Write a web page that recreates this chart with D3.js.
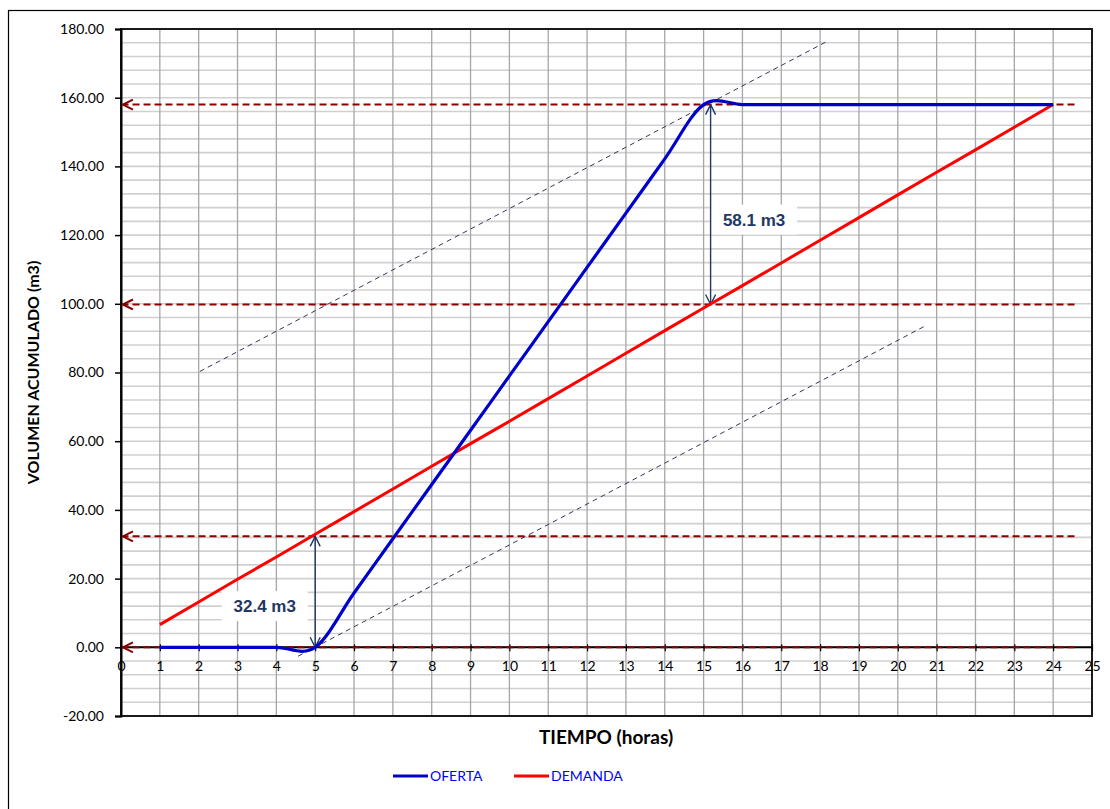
<!DOCTYPE html>
<html>
<head>
<meta charset="utf-8">
<script src="https://cdn.jsdelivr.net/npm/d3@7"></script>
<style>
  body { margin: 0; background: #fff; }
  svg { display: block; }
</style>
</head>
<body>
<div id="chart"></div>
<script>
// hourly values
const hours = [1, 2, 3, 4, 5, 6, 7, 8, 9, 10, 11, 12, 13, 14, 15, 16, 17, 18, 19, 20, 21, 22, 23, 24];
const oferta = [0, 0, 0, 0, 0, 15.8, 31.6, 47.4, 63.2, 79.0, 94.8, 110.6, 126.4, 142.2, 158, 158, 158, 158, 158, 158, 158, 158, 158, 158];
const demanda = [6.6, 13.2, 19.8, 26.3, 32.9, 39.5, 46.1, 52.7, 59.3, 65.8, 72.4, 79.0, 85.6, 92.2, 98.8, 105.3, 111.9, 118.5, 125.1, 131.7, 138.3, 144.8, 151.4, 158.0];

const xTicks = d3.range(0, 26);
const yTicks = [-20, 0, 20, 40, 60, 80, 100, 120, 140, 160, 180];

// reference levels (dashed, arrow at left end)
const levels = [158, 99.8, 32.3, 0];
const levelFrom = 0.05, levelTo = 24.55;

// parallel dashed guides [x1, y1, x2, y2]
const guides = [[2.03, 80.3, 18.23, 176.7], [4.56, -2.6, 20.73, 93.7]];

// double arrows with labels
const gaps = [
  { x: 5, y0: 0, y1: 32.3, label: '32.4 m3', lx: 3.7, ly: 12 },
  { x: 15.18, y0: 99.8, y1: 158, label: '58.1 m3', lx: 16.3, ly: 124.5 }
];

const width = 1110, height = 809;
const margin = { top: 29, right: 18, bottom: 93, left: 121 };

const svg = d3.select('#chart').append('svg')
  .attr('width', width)
  .attr('height', height);

// outer chart frame
svg.append('rect')
  .attr('x', 8.5).attr('y', 10.5)
  .attr('width', width + 20).attr('height', height + 20)
  .attr('fill', 'none').attr('stroke', '#000').attr('stroke-width', 1.2);

const x = d3.scaleLinear().domain([0, 25]).range([margin.left, width - margin.right]);
const y = d3.scaleLinear().domain([-20, 180]).range([height - margin.bottom, margin.top]);

// horizontal grid every 4 units
svg.append('g')
  .selectAll('line')
  .data(d3.range(-16, 180, 4))
  .join('line')
  .attr('x1', x(0)).attr('x2', x(25))
  .attr('y1', d => y(d)).attr('y2', d => y(d))
  .attr('stroke', '#d0d0d0').attr('stroke-width', 1.6);

// vertical grid every hour
svg.append('g')
  .selectAll('line')
  .data(d3.range(1, 25))
  .join('line')
  .attr('x1', d => x(d)).attr('x2', d => x(d))
  .attr('y1', y(-20)).attr('y2', y(180))
  .attr('stroke', '#a6a6a6').attr('stroke-width', 1.3);

// plot border
svg.append('rect')
  .attr('x', x(0)).attr('y', y(180))
  .attr('width', x(25) - x(0)).attr('height', y(-20) - y(180))
  .attr('fill', 'none').attr('stroke', '#1a1a1a').attr('stroke-width', 2);

// y axis
const yAxis = svg.append('g')
  .attr('transform', `translate(${x(0)},0)`)
  .call(d3.axisLeft(y).tickValues(yTicks).tickFormat(d => d.toFixed(2)).tickSize(6).tickPadding(11));
yAxis.select('.domain').attr('stroke', '#000').attr('stroke-width', 2);
yAxis.selectAll('.tick line').attr('stroke', '#000').attr('stroke-width', 1.5);
yAxis.selectAll('text')
  .attr('font-family', 'Lato, "Open Sans", sans-serif')
  .attr('font-size', '14px')
  .attr('fill', '#000');

// x axis at zero
const xAxis = svg.append('g')
  .attr('transform', `translate(0,${y(0)})`)
  .call(d3.axisBottom(x).tickValues(xTicks).tickSize(4).tickPadding(10));
xAxis.select('.domain').attr('stroke', '#000').attr('stroke-width', 2).attr('d', `M${x(0)},0H${x(25)}`);
xAxis.selectAll('.tick line').attr('stroke', '#000').attr('stroke-width', 1.2).attr('y1', -3);
xAxis.selectAll('text')
  .attr('font-family', 'Lato, "Open Sans", sans-serif')
  .attr('font-size', '14px')
  .attr('fill', '#000');

// arrow markers (tip points along the line direction)
const defs = svg.append('defs');
defs.append('marker')
  .attr('id', 'openLeft')
  .attr('viewBox', '0 0 12 12')
  .attr('refX', 11).attr('refY', 6)
  .attr('markerWidth', 12).attr('markerHeight', 12)
  .attr('markerUnits', 'userSpaceOnUse')
  .attr('orient', 'auto')
  .append('path')
  .attr('d', 'M1,1 L11,6 L1,11')
  .attr('fill', 'none').attr('stroke', '#8b0000').attr('stroke-width', 2);
defs.append('marker')
  .attr('id', 'openNavy')
  .attr('viewBox', '0 0 12 12')
  .attr('refX', 11).attr('refY', 6)
  .attr('markerWidth', 12).attr('markerHeight', 12)
  .attr('markerUnits', 'userSpaceOnUse')
  .attr('orient', 'auto-start-reverse')
  .append('path')
  .attr('d', 'M1,1 L11,6 L1,11')
  .attr('fill', 'none').attr('stroke', '#1f3864').attr('stroke-width', 1.4);

// guide lines
svg.append('g')
  .selectAll('line')
  .data(guides)
  .join('line')
  .attr('x1', d => x(d[0])).attr('y1', d => y(d[1]))
  .attr('x2', d => x(d[2])).attr('y2', d => y(d[3]))
  .attr('stroke', '#3a3456').attr('stroke-width', 1)
  .attr('stroke-dasharray', '5,4');

// level lines, drawn right to left so marker sits at the left end
svg.append('g')
  .selectAll('line')
  .data(levels)
  .join('line')
  .attr('x1', x(levelTo)).attr('x2', x(levelFrom))
  .attr('y1', d => y(d)).attr('y2', d => y(d))
  .attr('stroke', '#8b0000').attr('stroke-width', 2)
  .attr('stroke-dasharray', '7,4')
  .attr('marker-end', 'url(#openLeft)');

// label boxes and labels
const gapG = svg.append('g');
gapG.selectAll('rect')
  .data(gaps)
  .join('rect')
  .attr('x', d => x(d.lx) - 43)
  .attr('y', d => y(d.ly) - 15)
  .attr('width', 86).attr('height', 30)
  .attr('fill', '#fff');
gapG.selectAll('text')
  .data(gaps)
  .join('text')
  .attr('x', d => x(d.lx))
  .attr('y', d => y(d.ly))
  .attr('dy', '0.35em')
  .attr('text-anchor', 'middle')
  .attr('font-family', '"Liberation Sans Narrow", "Arial Narrow", "Liberation Sans", sans-serif')
  .attr('font-weight', 'bold')
  .attr('font-size', '17px')
  .attr('fill', '#1f3864')
  .text(d => d.label);

// series lines
const line = d3.line()
  .x(d => x(d[0]))
  .y(d => y(d[1]))
  .curve(d3.curveCardinal.tension(0));

svg.append('path')
  .datum(hours.map((h, i) => [h, demanda[i]]))
  .attr('d', d3.line().x(d => x(d[0])).y(d => y(d[1])))
  .attr('fill', 'none').attr('stroke', '#ff0000').attr('stroke-width', 3);

svg.append('path')
  .datum(hours.map((h, i) => [h, oferta[i]]))
  .attr('d', line)
  .attr('fill', 'none').attr('stroke', '#0000cc').attr('stroke-width', 3.2);

// double arrows
gapG.selectAll('line')
  .data(gaps)
  .join('line')
  .attr('x1', d => x(d.x)).attr('x2', d => x(d.x))
  .attr('y1', d => y(d.y0)).attr('y2', d => y(d.y1))
  .attr('stroke', '#1f3864').attr('stroke-width', 1.4)
  .attr('marker-start', 'url(#openNavy)')
  .attr('marker-end', 'url(#openNavy)');

// axis titles
svg.append('text')
  .attr('transform', `translate(39,${(y(180) + y(-20)) / 2}) rotate(-90)`)
  .attr('text-anchor', 'middle')
  .attr('font-family', 'Lato, "Open Sans", sans-serif')
  .attr('font-weight', 'bold')
  .attr('font-size', '16px')
  .text('VOLUMEN ACUMULADO (m3)');

svg.append('text')
  .attr('x', 606)
  .attr('y', 744)
  .attr('text-anchor', 'middle')
  .attr('font-family', 'Lato, "Open Sans", sans-serif')
  .attr('font-weight', 'bold')
  .attr('font-size', '19px')
  .text('TIEMPO (horas)');

// legend
const legend = [
  { name: 'OFERTA', color: '#0000cc', x: 393 },
  { name: 'DEMANDA', color: '#ff0000', x: 514 }
];
const lg = svg.append('g').selectAll('g')
  .data(legend)
  .join('g')
  .attr('transform', d => `translate(${d.x},776)`);
lg.append('line')
  .attr('x1', 0).attr('x2', 35)
  .attr('stroke', d => d.color).attr('stroke-width', 3.2);
lg.append('text')
  .attr('x', 37)
  .attr('dy', '0.35em')
  .attr('font-family', 'Lato, "Open Sans", sans-serif')
  .attr('font-size', '14px')
  .attr('fill', '#0000ff')
  .text(d => d.name);
</script>
</body>
</html>
